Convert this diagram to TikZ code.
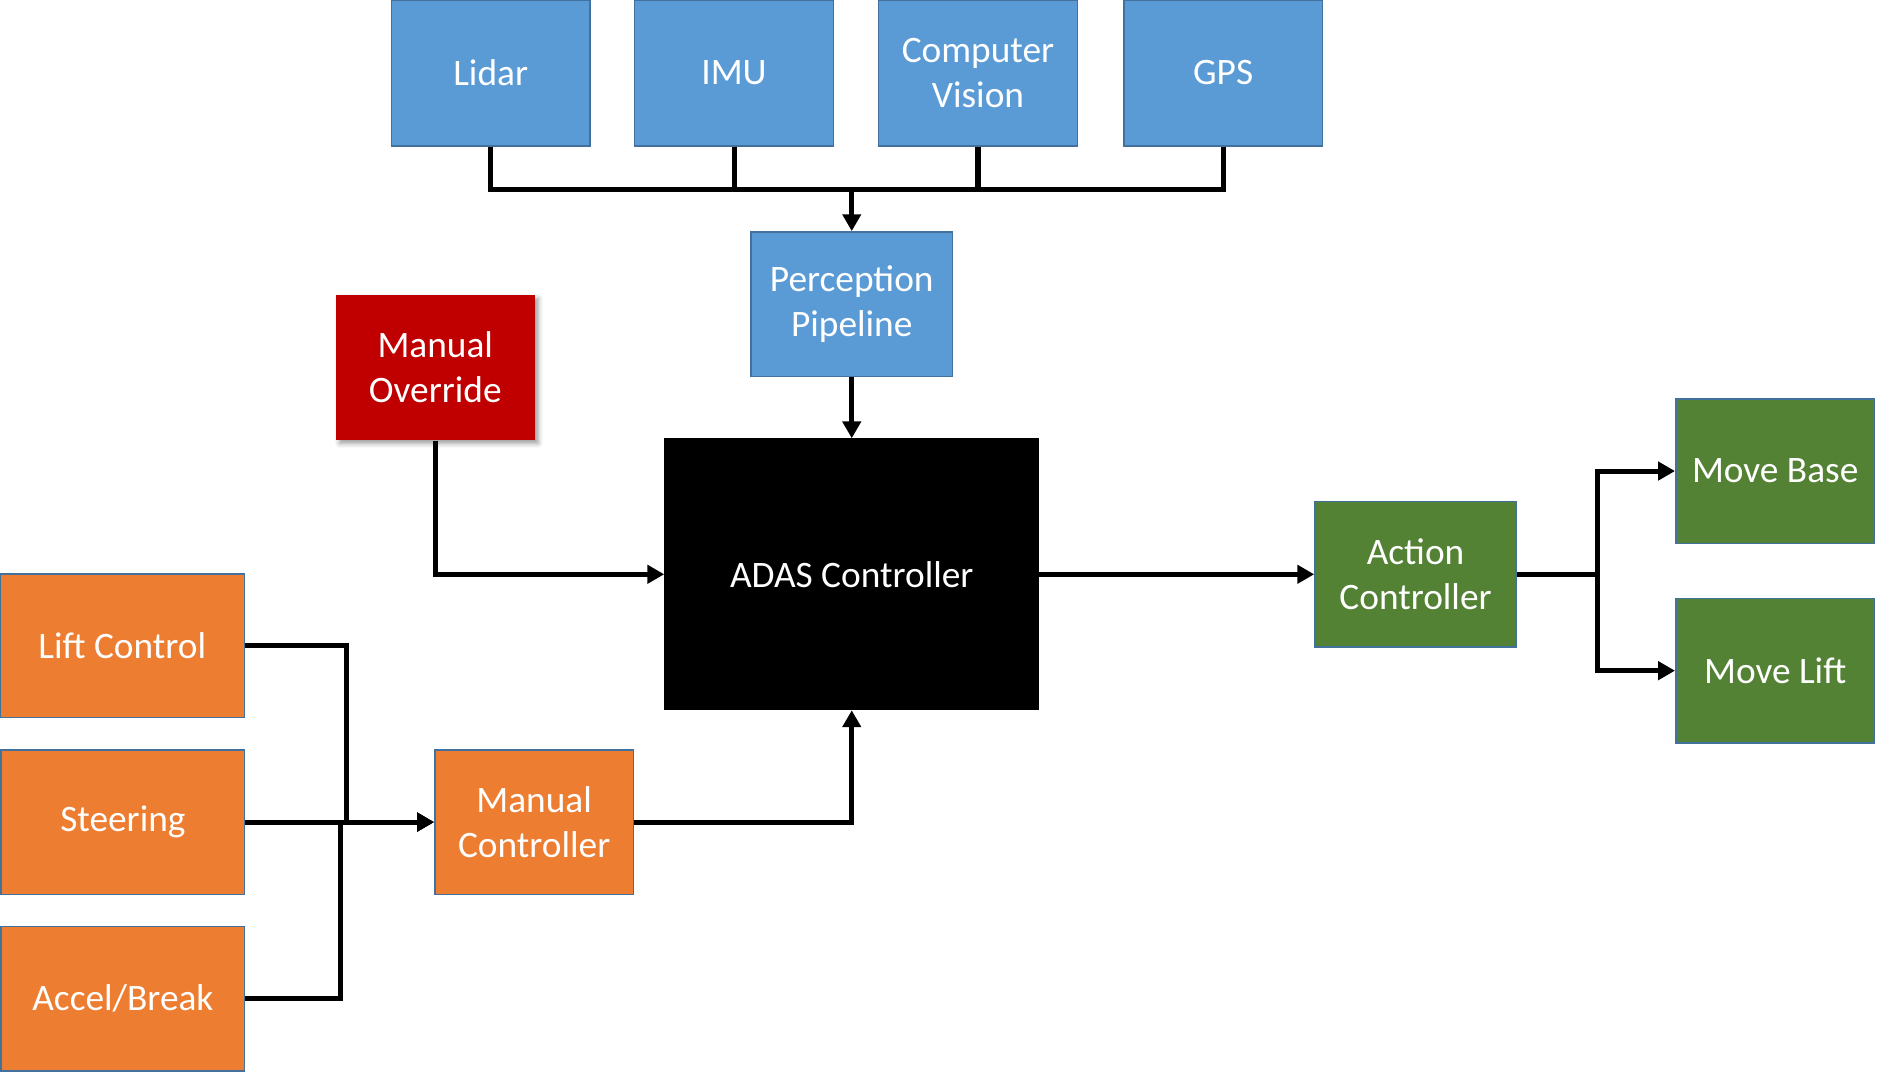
\documentclass[tikz,border=0pt]{standalone}
\usepackage{fontspec}
\setmainfont{Carlito}
\usetikzlibrary{positioning,arrows.meta,shadows.blur}
\definecolor{sensorblue}{HTML}{5B9BD5}
\definecolor{manorange}{HTML}{ED7D31}
\definecolor{actgreen}{HTML}{548235}
\definecolor{overred}{HTML}{C00000}
\definecolor{edgeblue}{HTML}{41719C}
\tikzset{
  box/.style={rectangle, draw=edgeblue, line width=1.3pt, text=white,
    align=center, minimum width=165pt, minimum height=120pt,
    font=\fontsize{31}{37.5}\selectfont},
  sensor/.style={box, fill=sensorblue},
  manual/.style={box, fill=manorange},
  act/.style={box, fill=actgreen},
  line/.style={draw=black, line width=4.2pt},
  arr/.style={line, -{Triangle[length=14pt,width=15pt]}}
}
\begin{document}
\begin{tikzpicture}[x=1pt,y=-1pt]
\useasboundingbox (0,0) rectangle (1563,890);
% sensors
\node[sensor, minimum height=121pt] (lidar) at (407.3,60.5) {Lidar};
\node[sensor, minimum height=121pt] (imu) at (609.3,60.5) {IMU};
\node[sensor, minimum height=121pt] (cv) at (811.8,60.5) {Computer\\Vision};
\node[sensor, minimum height=121pt] (gps) at (1015.3,60.5) {GPS};
\node[sensor, minimum width=167pt] (percep) at (707,252.5) {Perception\\Pipeline};
%
\node[box, draw=none, fill=overred,
  blur shadow={shadow xshift=3pt, shadow yshift=-3pt, shadow blur radius=4pt}]
  (override) at (361.3,305) {Manual\\Override};
\node[box, draw=black, fill=black, minimum width=310pt, minimum height=224.5pt]
  (adas) at (707,476.7) {ADAS Controller};
%
\node[manual, minimum width=203pt, minimum height=119pt] (lift) at (101.5,536) {Lift Control};
\node[manual, minimum width=202pt] (steer) at (102,682.4) {Steering};
\node[manual, minimum width=202pt] (accel) at (102,829) {Accel/Break};
\node[manual] (manctl) at (443.4,682.4) {Manual\\Controller};
%
\node[act, minimum width=167pt, minimum height=121pt] (actctl) at (1175,476.7) {Action\\Controller};
\node[act] (base) at (1473.5,391) {Move Base};
\node[act] (movlift) at (1473.5,556.7) {Move Lift};
%
\coordinate (bus) at (707,157);
\coordinate (split) at (1326,476.7);
\draw[line] (lidar.south) |- (bus) -| (gps.south);
\draw[line] (imu.south) -- (imu.south |- bus);
\draw[line] (cv.south) -- (cv.south |- bus);
\draw[arr] (bus) -- (percep.north);
\draw[arr] (percep.south) -- (adas.north);
\draw[arr] (override.south) |- (adas.west);
\draw[arr] (adas.east) -- (actctl.west);
\draw[line] (actctl.east) -- (split);
\draw[arr] (split) |- (base.west);
\draw[arr] (split) |- (movlift.west);
%
\draw[arr] (lift.east) -- ++(84,0) |- (manctl.west);
\draw[arr] (steer.east) -- (manctl.west);
\draw[arr] (accel.east) -- ++(79,0) |- (manctl.west);
\draw[arr] (manctl.east) -| (adas.south);
\end{tikzpicture}
\end{document}
